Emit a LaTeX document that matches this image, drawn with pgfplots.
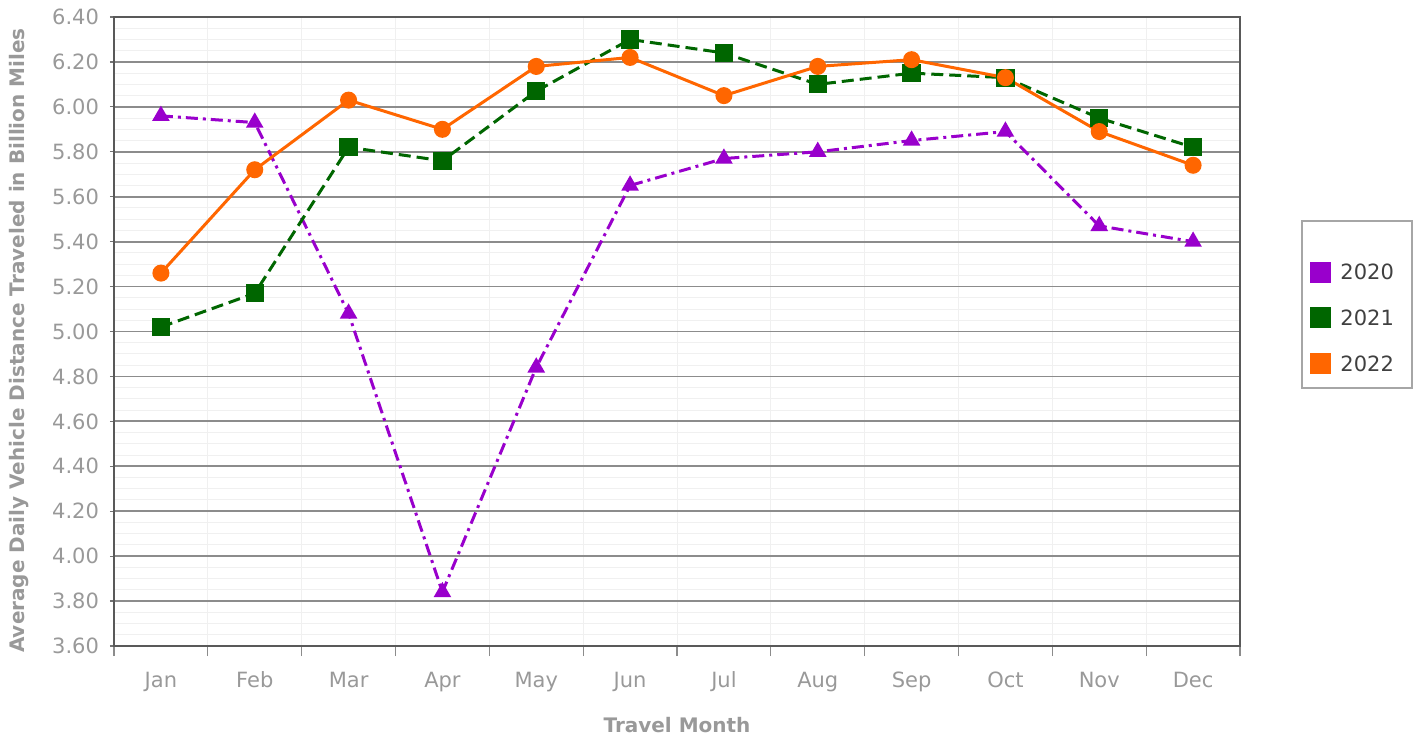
\documentclass[border=0pt]{standalone}
\usepackage{fontspec}
\setmainfont{DejaVu Sans}
\usepackage{pgfplots}
\pgfplotsset{compat=1.18}

\definecolor{c20}{HTML}{9900CC}
\definecolor{c21}{HTML}{006600}
\definecolor{c22}{HTML}{FF6600}
\definecolor{lbl}{HTML}{999999}
\definecolor{gridmaj}{HTML}{8C8C8C}
\definecolor{gridmin}{HTML}{F0F0F0}

\begin{document}
\begin{tikzpicture}
\path[use as bounding box] (0,0) rectangle (709.5pt,370pt);
\begin{axis}[
  at={(57pt,47pt)}, anchor=south west,
  scale only axis, width=563pt, height=314.5pt,
  xmin=-0.5, xmax=11.5, ymin=3.6, ymax=6.4,
  xtick={0,...,11},
  xticklabels={Jan,Feb,Mar,Apr,May,Jun,Jul,Aug,Sep,Oct,Nov,Dec},
  minor xtick={-0.5,0.5,...,11.5},
  ytick={3.6,3.8,...,6.41},
  minor y tick num=3,
  xtick pos=bottom, ytick pos=left,
  ymajorgrids, yminorgrids, xminorgrids,
  major y grid style={draw=gridmaj, line width=0.9pt},
  minor y grid style={draw=gridmin, line width=0.5pt},
  minor x grid style={draw=gridmin, line width=0.5pt},
  tick align=outside,
  major tick length=2pt, minor tick length=5pt,
  major x tick style={draw=none},
  minor x tick style={draw=black!45, line width=0.6pt},
  minor y tick style={draw=none},
  y tick style={draw=black!55, line width=0.6pt},
  axis line style={draw=black!65, line width=1pt},
  ticklabel style={font=\fontsize{10.5}{12}\selectfont, text=lbl},
  xticklabel style={yshift=-7pt, text height=8pt, text depth=2pt},
  yticklabel style={xshift=-2pt},
  /pgf/number format/.cd, fixed, fixed zerofill, precision=2, assume math mode=true,
  /pgfplots/.cd,
  xlabel={\textbf{Travel Month}},
  ylabel={\textbf{Average Daily Vehicle Distance Traveled in Billion Miles}},
  label style={font=\fontsize{10}{12}\selectfont, text=lbl},
  xlabel style={yshift=-6.5pt},
  ylabel style={yshift=5pt, xshift=-4.5pt},
  legend style={at={(1.0622,0.6137)}, anchor=north west, draw=none, fill=none,
    font=\fontsize{10.5}{12}\selectfont, text=black!75,
    row sep=9.5pt, inner sep=0pt},
  legend cell align=left,
  legend image code/.code={\fill[draw=none,solid] (0pt,-4.5pt) rectangle (10.5pt,6pt);
    \path[draw=none,fill=none] (0pt,0pt) -- (13pt,0pt);},
]
\addplot[c20, line width=1.5pt, dash pattern=on 6pt off 2.5pt on 1.5pt off 2.5pt,
  mark=triangle*, mark size=3.6pt, mark options={solid}]
  coordinates {(0,5.96) (1,5.93) (2,5.08) (3,3.84) (4,4.84) (5,5.65)
               (6,5.77) (7,5.80) (8,5.85) (9,5.89) (10,5.47) (11,5.40)};
\addplot[c21, line width=1.5pt, dash pattern=on 6pt off 3pt,
  mark=square*, mark size=3.8pt, mark options={solid}]
  coordinates {(0,5.02) (1,5.17) (2,5.82) (3,5.76) (4,6.07) (5,6.30)
               (6,6.24) (7,6.10) (8,6.15) (9,6.13) (10,5.95) (11,5.82)};
\addplot[c22, line width=1.5pt, solid,
  mark=*, mark size=3.5pt]
  coordinates {(0,5.26) (1,5.72) (2,6.03) (3,5.90) (4,6.18) (5,6.22)
               (6,6.05) (7,6.18) (8,6.21) (9,6.13) (10,5.89) (11,5.74)};
\legend{2020,2021,2022}
\end{axis}
\draw[black!35, line width=1pt] (651pt,176pt) rectangle (706pt,259.5pt);
\end{tikzpicture}
\end{document}
